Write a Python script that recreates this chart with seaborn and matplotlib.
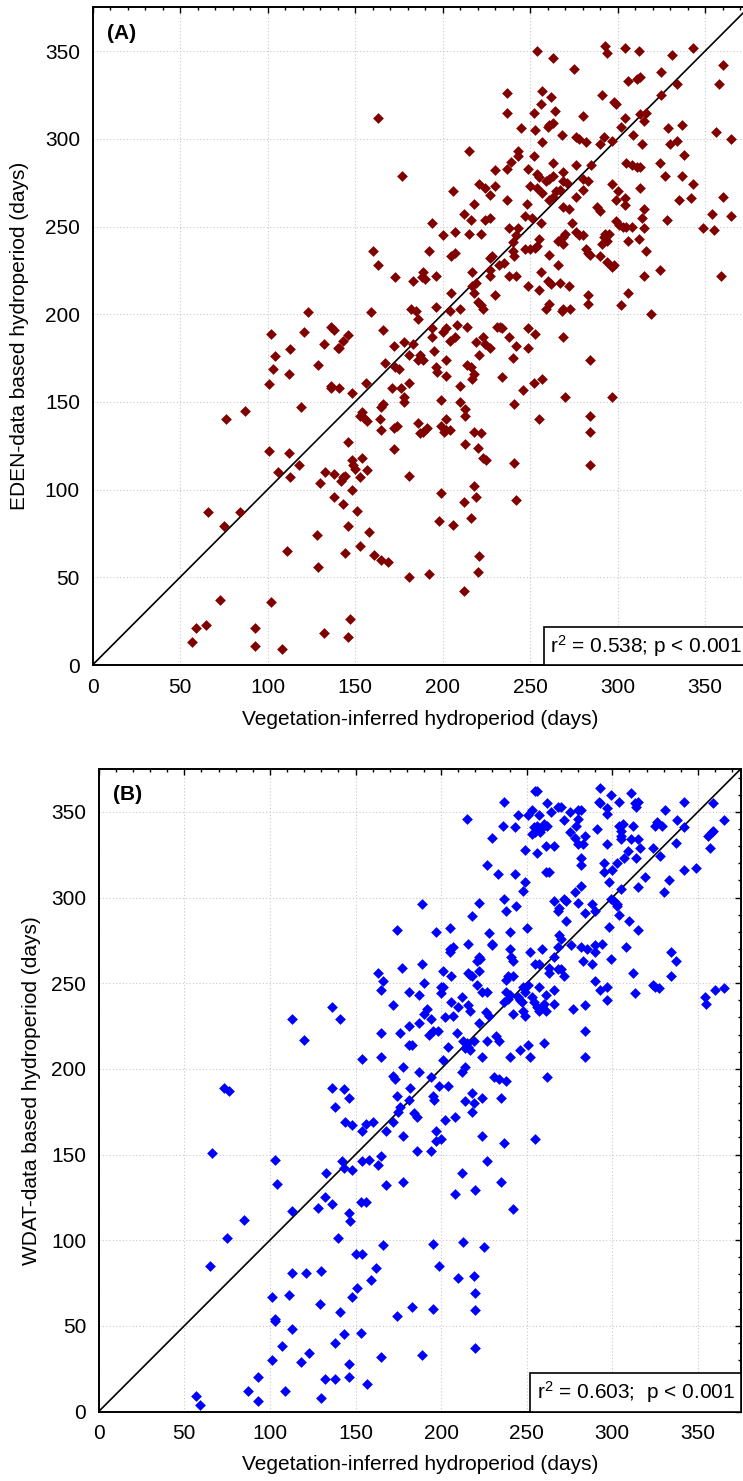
import matplotlib
matplotlib.use("Agg")
import matplotlib.pyplot as plt
from matplotlib.ticker import MultipleLocator
from matplotlib.offsetbox import AnchoredText
import seaborn as sns
import pandas as pd

# ---------------- data ----------------
A_points = [
 (163,312),(177,279),(160,236),(163,228),(173,221),(183,219),(123,201),(159,201),(182,203),(185,202),(136,193),
 (254,350),(293,353),(294,349),(304,352),(312,350),(343,352),(331,348),(263,346),(360,342),(275,340),(325,338),
 (306,333),(311,334),(313,335),(334,331),(358,331),(257,327),(237,326),(291,325),(262,324),(325,325),(256,320),
 (298,321),(299,320),(264,316),(237,315),(252,315),(280,313),(304,312),(313,314),(316,315),(315,310),(263,309),
 (261,308),(260,307),(302,307),(337,308),(245,306),(253,305),(329,306),(356,304),(268,302),(309,302),(292,301),
 (276,301),(278,300),(282,298),(257,298),(290,297),(297,299),(365,300),(334,299),(330,297),(314,297),(215,293),
 (243,293),(243,290),(252,290),(338,291),(239,287),(237,283),(263,286),(276,285),(285,285),(305,286),(308,285),
 (311,284),(313,284),(324,286),(249,283),(230,282),(269,281),(254,280),(255,278),(327,279),(337,279),(259,276),
 (261,277),(263,279),(269,276),(271,275),(280,277),(283,276),(221,274),(224,272),(230,273),(250,273),(254,272),
 (343,274),(297,274),(313,272),(206,270),(227,268),(257,269),(265,270),(267,271),(263,267),(261,265),(280,271),
 (276,267),(300,270),(304,266),(299,265),(342,266),(360,267),(237,265),(248,263),(335,265),(218,263),(269,261),
 (272,260),(288,261),(290,259),(304,262),(315,260),(212,257),(216,254),(224,254),(227,255),(247,256),(251,255),
 (314,255),(354,257),(365,256),(194,252),(256,252),(274,252),(299,253),(301,251),(303,250),(305,250),(308,250),
 (315,249),(328,254),(349,249),(355,248),(238,249),(243,249),(207,247),(215,246),(222,246),(200,245),(242,245),
 (240,241),(276,247),(278,245),(280,245),(270,246),(269,244),(293,246),(295,246),(292,244),(294,242),(255,243),
 (266,242),(269,240),(306,242),(312,243),(291,240),(192,236),(205,233),(207,235),(228,233),(227,232),(240,236),
 (241,233),(247,237),(250,237),(253,238),(254,239),(261,234),(282,237),(283,235),(284,234),(290,233),(316,236),
 (266,228),(294,230),(298,228),(297,227),(232,228),(235,229),(189,224),(188,221),(190,220),(196,222),(217,224),
 (227,225),(227,222),(238,222),(242,222),(256,224),(315,222),(324,225),(359,222),(249,216),(255,214),(260,219),
 (262,217),(267,218),(272,216),(219,218),(217,216),(218,212),(205,212),(230,211),(283,211),(306,212),(220,207),
 (222,205),(223,203),(196,204),(204,202),(210,203),(261,206),(259,203),(268,202),(273,203),(269,203),(283,206),
 (302,205),(186,197),(319,200),(194,192),(202,192),(208,194),(214,193),(231,193),(234,192),(233,193),(249,192),
 (102,189),(121,190),(138,191),(146,188),(143,185),(132,183),(113,180),(104,176),(140,181),(141,181),(103,169),
 (129,171),(112,166),(101,160),(136,159),(136,158),(141,158),(148,155),(156,161),(166,191),(172,182),(178,184),
 (183,183),(181,177),(167,172),(173,170),(175,169),(186,174),(181,161),(171,158),(176,158),(178,153),(178,150),
 (166,149),(165,147),(154,144),(153,142),(155,141),(157,139),(164,140),(165,134),(172,135),(174,136),(186,138),
 (187,132),(87,145),(76,140),(119,147),(101,122),(112,121),(118,114),(106,110),(113,107),(133,110),(138,109),
 (142,105),(143,107),(144,108),(130,104),(148,117),(154,118),(149,114),(150,112),(157,111),(153,107),(146,127),
 (172,123),(181,108),(148,100),(138,96),(143,92),(151,88),(66,87),(84,87),(75,79),(128,74),(146,79),(158,76),
 (111,65),(129,56),(144,64),(153,68),(161,63),(165,60),(169,59),(181,50),(73,37),(102,36),(59,21),(65,23),
 (57,13),(93,21),(93,11),(108,9),(132,18),(146,16),(147,26),
 (200,190),(207,187),(204,185),(194,187),(238,187),(253,189),(223,187),(219,184),(224,183),(227,181),(242,182),
 (249,181),(269,187),(195,179),(187,177),(189,174),(202,174),(221,177),(240,175),(284,174),(214,171),(216,170),
 (196,170),(197,167),(202,165),(218,166),(217,163),(210,159),(234,164),(246,157),(252,161),(257,163),(270,153),
 (297,153),(199,151),(210,150),(213,146),(213,142),(241,149),(255,140),(284,142),(191,135),(189,133),(202,140),
 (199,136),(202,134),(201,133),(204,134),(218,133),(222,132),(213,126),(220,124),(223,118),(225,117),(241,115),
 (284,133),(284,114),(218,102),(219,96),(199,98),(212,93),(242,94),(198,82),(206,80),(216,84),(221,62),(220,53),
 (192,52),(212,42),
]

B_points = [
 (174,281),(177,259),(163,256),(166,251),(165,246),(181,245),(172,237),(136,236),(141,229),(113,229),(120,217),
 (165,221),(176,221),(181,225),(181,214),(183,214),(154,206),(165,207),(178,201),(172,196),(173,194),
 (293,364),(255,362),(256,362),(311,361),(299,360),(237,356),(262,355),(268,353),(270,353),(292,356),(293,355),
 (304,356),(313,355),(315,356),(314,353),(342,356),(359,355),(253,351),(251,348),(257,348),(264,350),(275,350),
 (280,351),(282,351),(297,352),(297,349),(331,351),(215,346),(245,348),(272,345),(280,346),(304,342),(306,343),
 (312,342),(326,344),(325,342),(329,342),(338,345),(365,345),(236,342),(243,341),(256,342),(260,342),(262,342),
 (254,341),(260,343),(291,340),(342,341),(275,338),(278,335),(279,342),(284,336),(253,337),(255,338),(258,338),
 (230,335),(305,339),(305,336),(305,334),(311,334),(315,334),(356,336),(358,338),(359,339),(283,331),(280,331),
 (261,330),(266,330),(297,331),(316,329),(324,329),(337,332),(357,329),(249,328),(256,326),(309,327),(307,323),
 (314,323),(328,324),(282,323),(282,319),(295,320),(295,315),(300,316),(303,320),(227,319),(233,314),(243,314),
 (261,315),(263,315),(342,316),(349,317),(249,309),(248,304),(298,309),(319,312),(333,310),(330,303),(315,306),
 (305,305),(282,307),(278,303),(189,296),(222,297),(237,299),(238,292),(244,295),(266,298),(269,294),(268,292),
 (272,299),(273,298),(280,297),(284,291),(288,296),(290,292),(299,299),(301,298),(303,296),(303,295),(304,290),
 (218,289),(273,286),(310,286),(315,281),(298,283),(197,280),(205,282),(228,279),(240,280),(250,282),(269,278),
 (270,276),(268,271),(276,272),(282,271),(285,270),(290,272),(294,273),(308,271),(205,270),(207,271),(205,268),
 (216,273),(230,273),(230,272),(240,270),(241,265),(242,263),(252,268),(259,270),(266,265),(283,263),(288,261),
 (290,268),(299,264),(334,268),(337,263),(189,261),(222,265),(223,264),(221,263),(216,256),(217,255),(218,254),
 (222,257),(201,257),(206,254),(255,261),(257,261),(263,256),(263,259),(268,258),(270,258),(272,254),(239,254),
 (238,252),(242,254),(312,256),(334,254),(190,250),(221,249),(224,245),(227,245),(200,248),(201,248),(200,244),
 (187,243),(212,242),(238,245),(240,243),(239,241),(237,239),(245,242),(246,240),(247,239),(249,245),(248,248),
 (251,249),(257,248),(261,243),(266,246),(290,251),(293,246),(297,248),(297,240),(313,244),(324,249),(325,248),
 (327,247),(354,242),(355,238),(360,246),(365,247),(206,239),(210,236),(216,237),(217,234),(192,235),(190,232),
 (194,229),(202,230),(207,231),(226,233),(228,231),(222,227),(242,232),(248,234),(249,231),(253,242),(254,239),
 (256,236),(257,234),(259,236),(260,238),(261,234),(266,238),(277,235),(284,237),(187,227),(193,220),(195,222),
 (198,222),(209,221),(204,213),(213,216),(215,215),(216,213),(219,216),(217,211),(214,212),(227,216),(232,219),
 (234,216),(240,207),(246,211),(251,214),(252,207),(260,215),(284,222),(284,207),(224,207),(201,205),(187,198),
 (194,195),(212,198),(214,201),(231,195),(234,194),(238,193),(262,195),
 (73,189),(76,187),(136,189),(143,188),(146,183),(138,178),(182,189),(174,184),(181,182),(176,178),(175,175),
 (184,174),(186,172),(172,169),(168,164),(144,169),(148,167),(154,164),(156,168),(160,169),(178,161),(186,152),
 (66,151),(103,147),(142,146),(143,142),(148,141),(154,146),(158,147),(165,149),(163,144),(133,139),(168,132),
 (178,134),(104,133),(132,125),(128,119),(136,121),(113,117),(146,116),(147,111),(153,122),(156,122),(85,112),
 (75,101),(140,101),(150,92),(154,92),(166,97),(65,85),(113,81),(121,81),(130,82),(162,84),(159,77),(151,72),
 (101,67),(111,68),(148,67),(129,63),(103,54),(103,53),(141,58),(174,56),(183,61),(113,48),(143,45),(138,40),
 (153,46),(107,38),(123,34),(101,30),(118,29),(146,28),(165,32),(93,20),(132,19),(138,19),(146,20),(157,16),
 (87,12),(109,12),(57,9),(59,4),(93,6),(130,8),
 (199,190),(204,190),(218,186),(214,181),(219,180),(218,175),(224,183),(235,183),(195,184),(196,182),(202,170),
 (208,172),(197,164),(197,158),(200,159),(194,152),(224,161),(237,157),(255,159),(227,146),(212,139),(235,134),
 (208,127),(220,129),(242,118),(195,98),(213,99),(225,96),(199,85),(210,78),(219,79),(220,69),(220,59),(195,60),
 (220,37),(189,33),
]

veg_A = [p[0] for p in A_points]
eden_A = [p[1] for p in A_points]
veg_B = [p[0] for p in B_points]
wdat_B = [p[1] for p in B_points]

panel_labels = ["(A)", "(B)"]
y_labels = ["EDEN-data based hydroperiod (days)", "WDAT-data based hydroperiod (days)"]
x_label = "Vegetation-inferred hydroperiod (days)"
stats = [r"$\mathregular{r^2}$ = 0.538; p < 0.001", r"$\mathregular{r^2}$ = 0.603;  p < 0.001"]
colors = ["#800000", "#0000ff"]
ticks = [0, 50, 100, 150, 200, 250, 300, 350]

# ---------------- style ----------------
sns.set_style("white")
plt.rcParams["font.family"] = ["Liberation Sans", "DejaVu Sans"]
plt.rcParams["mathtext.fontset"] = "custom"
plt.rcParams["mathtext.rm"] = "Liberation Sans"
plt.rcParams["mathtext.it"] = "Liberation Sans:italic"
plt.rcParams["text.color"] = "black"
plt.rcParams["axes.labelcolor"] = "black"
plt.rcParams["xtick.color"] = "black"
plt.rcParams["ytick.color"] = "black"
FS = 15

W, H = 743, 1481
fig = plt.figure(figsize=(W / 100, H / 100), dpi=100)

def frac(l, r, t, b):
    return [l / W, 1 - b / H, (r - l) / W, (b - t) / H]

axA = fig.add_axes(frac(92.5, 748.75, 7.3, 665.0))
axB = fig.add_axes(frac(98.7, 740.7, 769.0, 1411.5))

dfA = pd.DataFrame({"veg": veg_A, "obs": eden_A})
dfB = pd.DataFrame({"veg": veg_B, "obs": wdat_B})

for ax, df, col, lab, ylab, st, ylp, xlp in [
    (axA, dfA, colors[0], panel_labels[0], y_labels[0], stats[0], -0.097, -0.068),
    (axB, dfB, colors[1], panel_labels[1], y_labels[1], stats[1], -0.090, -0.068),
]:
    ax.set_xlim(0, 375)
    ax.set_ylim(0, 375)
    ax.grid(True, which="major", color="#c8c8c8", linestyle=(0, (1, 2)), linewidth=0.8)
    ax.set_axisbelow(True)
    ax.plot([0, 375], [0, 375], color="black", linewidth=1.2, zorder=2)
    sns.scatterplot(data=df, x="veg", y="obs", ax=ax, marker="D", s=30,
                    color=col, linewidth=0, zorder=3)
    ax.xaxis.set_major_locator(MultipleLocator(50))
    ax.yaxis.set_major_locator(MultipleLocator(50))
    ax.xaxis.set_minor_locator(MultipleLocator(10))
    ax.yaxis.set_minor_locator(MultipleLocator(10))
    ax.set_xticks(ticks)
    ax.set_yticks(ticks)
    ax.tick_params(which="both", direction="in", top=True, right=True,
                   color="black", labelcolor="black", width=1.0)
    ax.tick_params(which="major", length=4, labelsize=FS)
    ax.tick_params(which="minor", length=2.2)
    ax.tick_params(axis="x", which="major", pad=9)
    ax.tick_params(axis="y", which="major", pad=9)
    for sp in ax.spines.values():
        sp.set_color("black")
        sp.set_linewidth(1.4)
    ax.set_xlabel(x_label, fontsize=FS, color="black")
    ax.set_ylabel(ylab, fontsize=FS, color="black")
    ax.yaxis.set_label_coords(ylp, 0.5)
    ax.xaxis.set_label_coords(0.5, xlp)
    ax.text(0.022, 0.96, lab, transform=ax.transAxes, fontsize=FS, fontweight="bold",
            ha="left", va="center", color="black")
    at = AnchoredText(st, loc="lower right", frameon=True, pad=0.3, borderpad=0,
                      prop=dict(size=FS, color="black"))
    at.patch.set_boxstyle("square,pad=0")
    at.patch.set_edgecolor("black")
    at.patch.set_linewidth(1.2)
    at.set_zorder(5)
    ax.add_artist(at)

fig.savefig("out.png", dpi=100)
